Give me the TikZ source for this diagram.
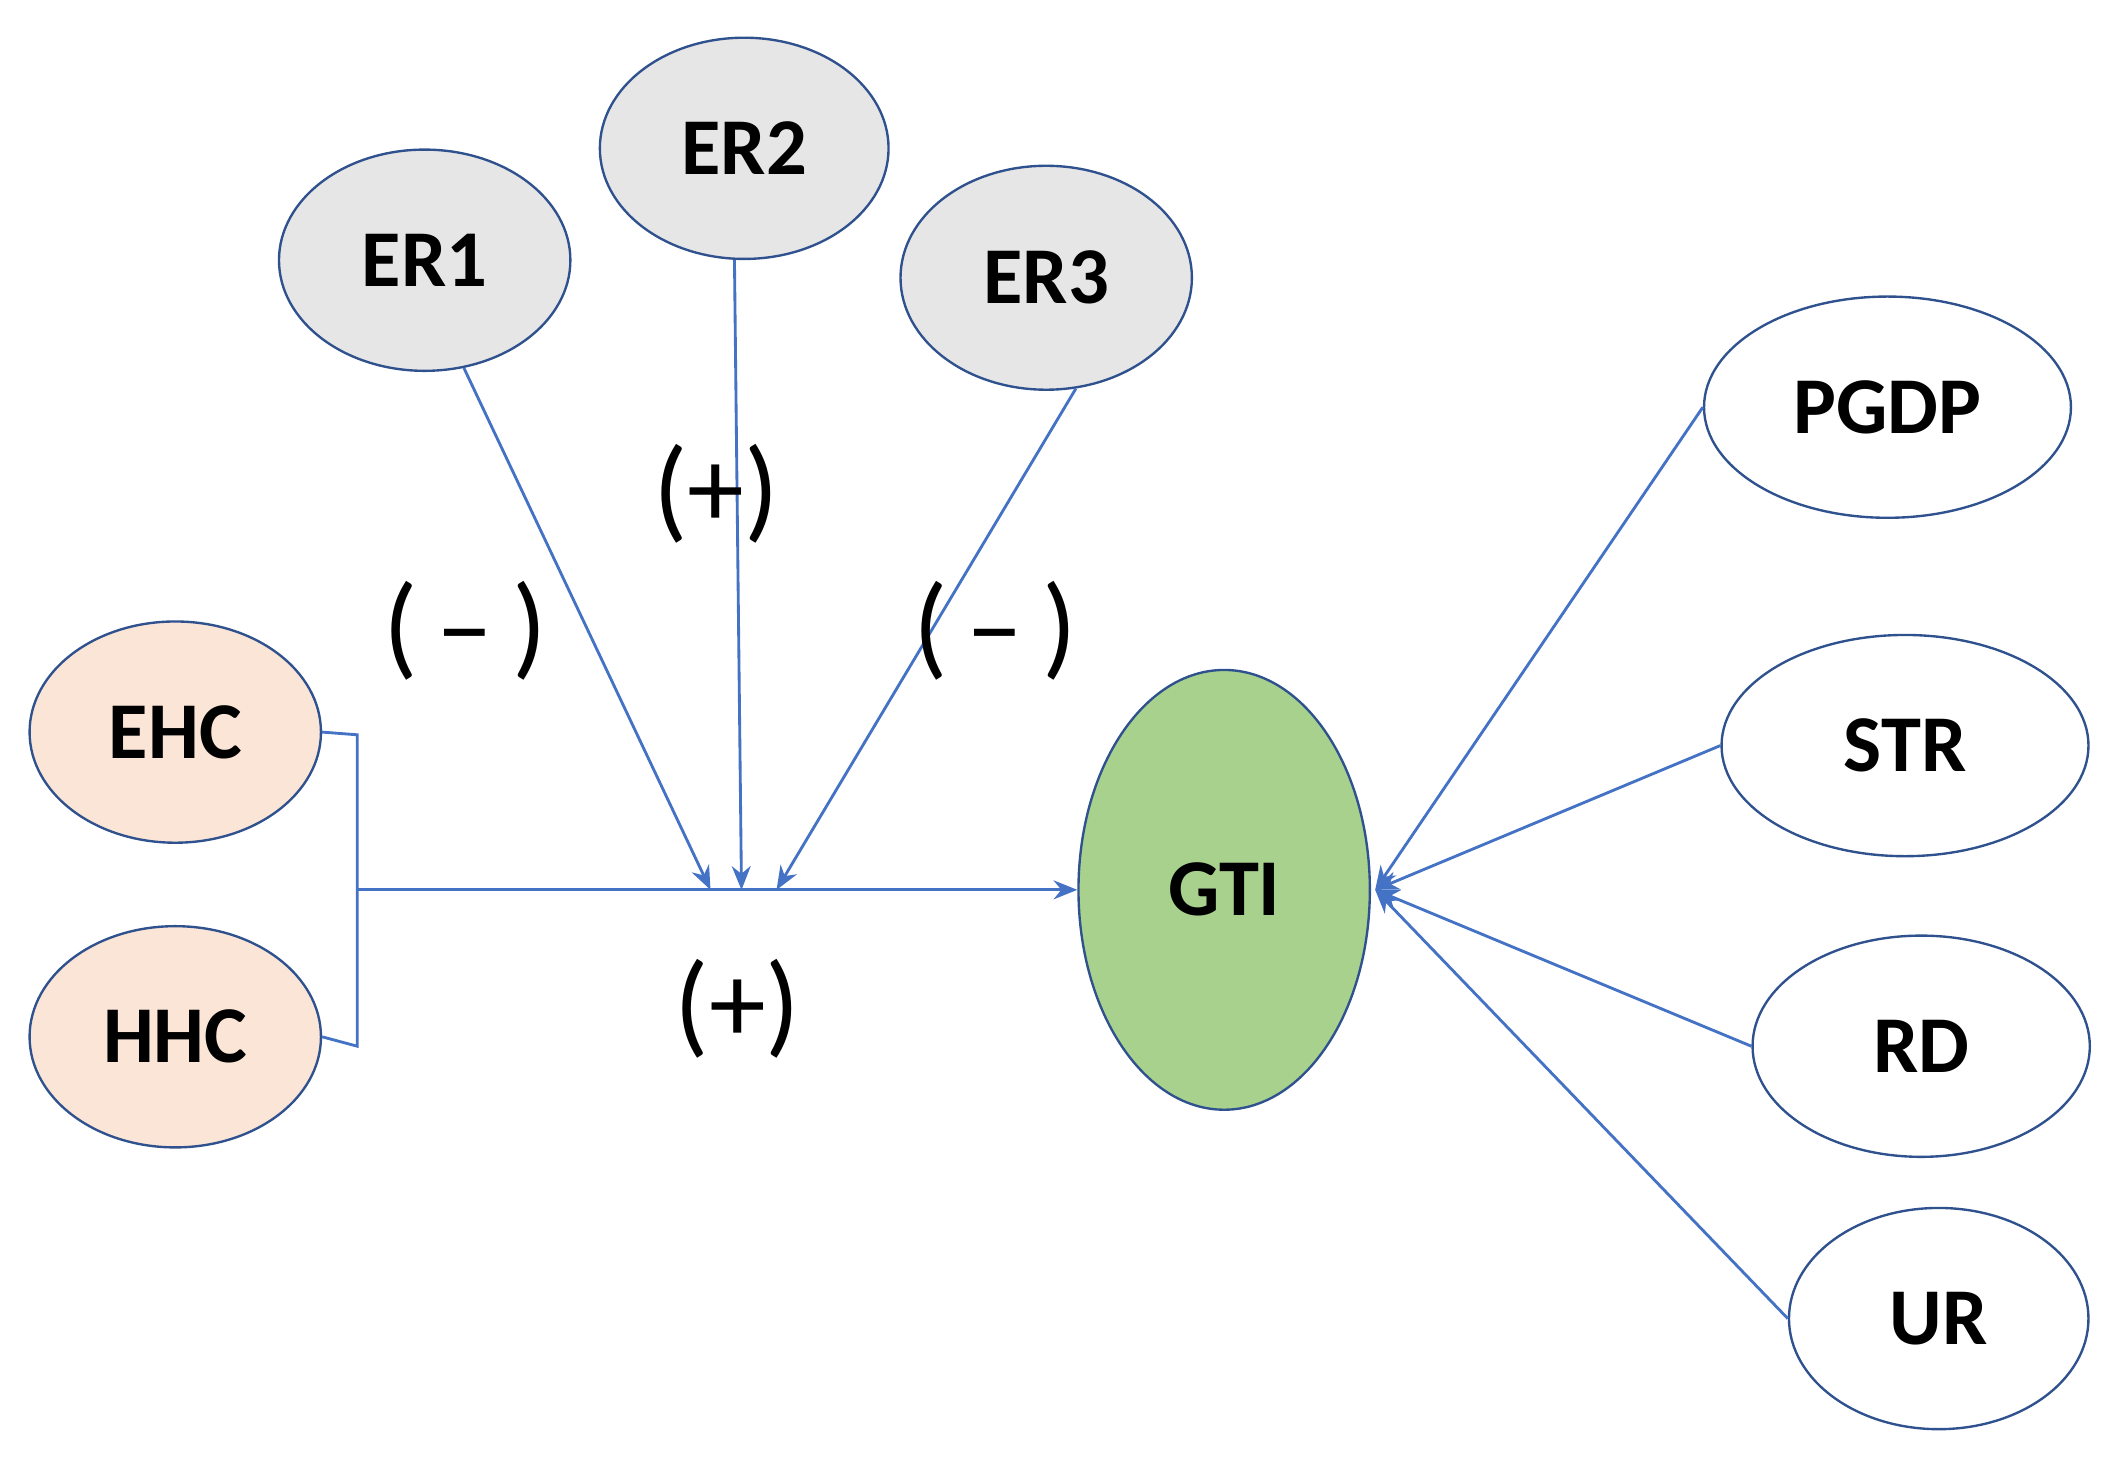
\documentclass[tikz,border=0pt]{standalone}
\usepackage{fontspec}
\setmainfont{Carlito}
\usetikzlibrary{shapes.geometric,arrows.meta}
\definecolor{ln}{HTML}{4472C4}
\definecolor{bd}{HTML}{2F528F}
\definecolor{gr}{HTML}{E7E6E6}
\definecolor{pe}{HTML}{FBE5D6}
\definecolor{gn}{HTML}{A9D18E}
\begin{document}
\begin{tikzpicture}[x=0.01cm,y=-0.01cm,
 el/.style 2 args={ellipse,draw=bd,line width=0.5pt,inner sep=0pt,minimum width=#1*0.1mm,minimum height=#2*0.1mm,font=\fontsize{17}{20}\selectfont\bfseries},
 cn/.style={draw=ln,line width=0.6pt},
 ar/.style={cn,-{Stealth[length=5pt,width=4pt]}},
 lb/.style={font=\fontsize{24}{28}\selectfont}]
\useasboundingbox (0,0) rectangle (1568,1090);
\node[el={216}{164},fill=gr] (er1) at (315,193) {ER1};
\node[el={214}{164},fill=gr] (er2) at (552,110) {ER2};
\node[el={216}{166},fill=gr] (er3) at (776,206) {ER3};
\node[el={216}{164},fill=pe] (ehc) at (130,543) {EHC};
\node[el={216}{164},fill=pe] (hhc) at (130,769) {HHC};
\node[el={216}{326},fill=gn] (gti) at (908,660) {GTI};
\node[el={272}{164},fill=white] (pgdp) at (1400,302) {PGDP};
\node[el={272}{164},fill=white] (str) at (1413,553) {STR};
\node[el={250}{164},fill=white] (rd) at (1425,776) {RD};
\node[el={222}{164},fill=white] (ur) at (1438,978) {UR};
\coordinate (j) at (265,660);
\coordinate (t1) at (527,660);
\coordinate (t2) at (550,660);
\coordinate (t3) at (576,660);
\coordinate (g) at (1020,660);
\draw[cn] (ehc.east) -- (265,545) -- (265,776) -- (hhc.east);
\draw[ar] (j) -- (gti.west);
\draw[ar] (er1.290) -- (t1);
\draw[ar] (er2.265) -- (t2);
\draw[ar] (er3.285) -- (t3);
\draw[ar] (pgdp.west) -- (g);
\draw[ar] (str.west) -- (g);
\draw[ar] (rd.west) -- (g);
\draw[ar] (ur.west) -- (g);
\node[lb] (l1) at (345,468) {(\,–\,)};
\node[lb] (l2) at (531,366) {(+)};
\node[lb] (l3) at (738,468) {(\,–\,)};
\node[lb] (l4) at (547,748) {(+)};
\end{tikzpicture}
\end{document}
